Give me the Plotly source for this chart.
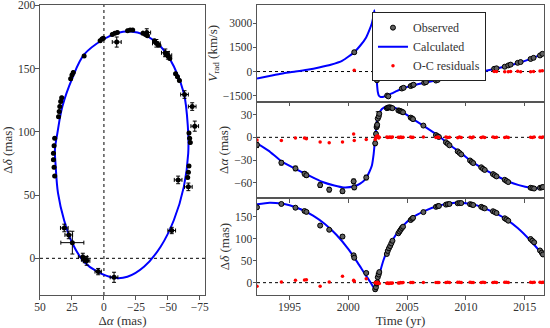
import plotly.graph_objects as go

# ---------------- Astrometric observations ----------------
obs_t = [1992.23, 1994.30, 1995.50, 1996.27, 1996.43, 1997.60, 1998.37, 1999.50, 2000.45, 2000.50,
         2001.52, 2002.28, 2002.35, 2002.40, 2002.42, 2002.45, 2002.50, 2002.58, 2002.63,
         2003.27, 2003.35, 2003.45, 2003.55, 2003.65, 2003.75,
         2004.25, 2004.35, 2004.45, 2004.55, 2004.65,
         2005.30, 2005.42, 2005.50, 2006.38,
         2007.45, 2007.60, 2007.70, 2008.30, 2008.45, 2008.60,
         2009.30, 2009.45, 2009.60, 2010.35, 2010.50, 2010.62,
         2011.30, 2011.45, 2011.60, 2012.30, 2012.45, 2012.60,
         2013.30, 2013.45, 2013.60, 2015.50, 2015.65, 2015.80,
         2016.30, 2016.45, 2016.55]
obs_ra = [-10.0, -33.5, -41.0, -48.0, -50.0, -63.0, -69.0, -71.0, -58.0, -66.0,
          -53.0, -7.9, 4.5, 13.5, 15.0, 16.5, 24.7, 27.5, 31.0,
          38.5, 39.0, 39.5, 39.5, 39.0, 38.5,
          35.5, 35.0, 34.5, 33.8, 33.0,
          26.0, 25.0, 24.0, 15.5,
          3.0, 1.5, 0.5, -6.5, -8.5, -10.5,
          -18.5, -20.5, -22.5, -30.5, -32.5, -34.0,
          -39.5, -41.5, -43.0, -48.5, -50.0, -51.5,
          -56.0, -57.5, -59.0, -66.5, -67.0, -67.5,
          -66.5, -66.0, -65.5]
obs_dec = [171.0, 178.5, 170.0, 162.5, 160.5, 129.5, 120.0, 104.5, 62.0, 56.5,
           22.0, -15.0, -10.5, -2.0, -1.0, 1.0, 12.4, 18.5, 24.0,
           65.0, 72.0, 78.0, 83.0, 89.0, 95.0,
           112.0, 116.0, 120.0, 124.0, 127.0,
           142.0, 145.0, 147.0, 160.0,
           172.0, 173.5, 174.0, 177.0, 178.0, 178.5,
           180.0, 180.5, 180.5, 178.0, 177.0, 176.0,
           172.0, 170.0, 168.5, 162.0, 160.0, 158.0,
           146.0, 143.5, 140.5, 99.0, 95.0, 91.5,
           73.0, 68.0, 64.0]
obs_ra_err = [3.5, 3.0, 3.0, 3.0, 3.0, 3.0, 3.0, 3.0, 3.0, 3.0,
              3.0, 3.0, 2.5, 2.5, 2.5, 3.5, 9.0, 3.0, 3.0] + [0.5] * 42
obs_dec_err = [4.0, 3.0, 3.0, 3.0, 3.0, 3.0, 3.0, 4.0, 3.0, 3.0,
               2.5, 4.0, 2.5, 3.5, 2.5, 3.0, 9.0, 3.0, 3.0] + [0.5] * 42
res_ra = [-3.4, -4.3, -0.9, -1.0, -2.0, -6.0, -7.3, -6.0, 4.4, -4.3,
          -3.0, -3.0, 0.0, 1.0, 0.5, 1.0, 2.0, -1.0, 0.0,
          0.5, -0.3, 0.2, 0.4, -0.2, 0.3,
          0.2, -0.3, 0.3, -0.2, 0.2,
          0.3, -0.2, 0.1, 0.3,
          -0.3, 0.3, -0.1, 0.4, -0.3, 0.2,
          -0.4, 0.3, -0.2, 0.2, -0.4, 0.3,
          -0.3, 0.4, -0.2, 0.3, -0.3, 0.2,
          -0.2, 0.4, -0.3, 0.2, -0.3, 0.3,
          0.2, -0.2, 0.3]
res_dec = [-8.2, 1.6, 5.5, 6.0, 6.5, -8.2, 1.6, 14.5, 5.5, 3.0,
           9.1, 0.0, 0.5, -1.0, -2.0, -1.0, 1.0, -2.0, -2.0,
           -1.5, -1.0, -2.0, -1.0, -1.5, -0.5,
           -0.8, -0.5, 0.3, -0.4, 0.2,
           0.5, 0.2, 0.6, 0.3,
           0.4, 0.5, 0.2, 0.6, 0.8, 0.4,
           0.7, 0.9, 0.5, 0.8, 0.6, 0.4,
           0.6, 0.8, 0.5, 0.6, 0.9, 0.5,
           0.7, 0.8, 0.6, 0.8, 0.6, 0.9,
           0.7, 0.6, 0.9]

# ---------------- Radial velocity observations ----------------
rv_t = [2000.50, 2002.43, 2003.30, 2003.40, 2004.55, 2004.70, 2005.30, 2005.45, 2005.55,
        2006.45, 2006.60, 2007.45, 2007.60, 2008.40, 2009.40, 2010.45, 2011.45, 2012.40,
        2012.60, 2013.30, 2013.60, 2013.80, 2014.40, 2014.65, 2015.50, 2015.75, 2016.30, 2016.50]
rv_v = [1200, -540, -1490, -1540, -1054, -1010, -900, -850, -820,
        -700, -660, -560, -520, -400, -260, -110, 20, 170,
        200, 300, 380, 430, 540, 590, 780, 850, 1000, 1100]
rv_err = [100, 80, 60, 60] + [40] * 24
rv_res = [80, 0, -167, -100, -30, 20, -40, 10, 30,
          -20, 10, -30, 20, -10, -20, -5, 0, 10,
          5, -20, -10, 10, 20, -20, -20, 0, 30, 50]

# ---------------- Calculated (model) curves ----------------
calc_rv_t = [1992.23, 1993.5, 1994.5, 1995.5, 1996.5, 1997.5, 1998.5, 1999.5, 2000.5, 2001.0,
             2001.5, 2001.8, 2002.0, 2002.15, 2002.22, 2002.28, 2002.34, 2002.4, 2002.45, 2002.5,
             2002.6, 2002.75, 2003.0, 2003.5, 2004.0, 2004.5, 2005.5, 2006.5, 2007.5, 2008.5,
             2009.5, 2010.5, 2011.5, 2012.5, 2013.5, 2014.5, 2015.5, 2016.64]
calc_rv = [-434, -250, -100, 0, 110, 250, 420, 680, 1200, 1600,
           2100, 2600, 3000, 3500, 3800, 2600, 800, -300, -900, -1250,
           -1500, -1580, -1560, -1420, -1250, -1080, -860, -690, -540, -390,
           -250, -115, 20, 170, 340, 540, 790, 1130]

calc_ra_t = [1992.23, 1993.2, 1994.35, 1995.5, 1996.6, 1997.75, 1998.8, 1999.6, 2000.5, 2001.0,
             2001.45, 2001.8, 2002.0, 2002.15, 2002.25, 2002.35, 2002.45, 2002.6, 2002.85, 2003.3,
             2003.7, 2004.3, 2005.4, 2006.4, 2007.65, 2008.65, 2009.65, 2010.5, 2011.5, 2012.5,
             2013.5, 2014.5, 2015.5, 2016.1, 2016.64]
calc_ra = [-7.9, -17.5, -32.0, -41.5, -50.0, -58.5, -63.5, -66.0, -64.5, -61.0,
           -55.0, -45.0, -37.0, -22.0, -6.0, 10.0, 22.0, 31.0, 37.5, 40.5,
           40.0, 36.5, 25.0, 15.0, 2.0, -10.5, -21.5, -32.0, -41.5, -50.0,
           -57.5, -63.0, -66.5, -67.0, -66.0]

calc_dec_t = [1992.23, 1993.3, 1994.3, 1995.0, 1996.0, 1997.0, 1998.0, 1999.0, 2000.0, 2000.8,
              2001.4, 2001.9, 2002.2, 2002.3, 2002.45, 2002.7, 2003.0, 2003.5, 2004.0, 2004.5,
              2005.4, 2006.5, 2007.6, 2008.7, 2009.6, 2010.7, 2011.9, 2013.3, 2014.4, 2015.5, 2016.64]
calc_dec = [178, 181.5, 179.5, 175.5, 166, 152, 133, 108, 76, 45,
            20, 0, -13, -17, 0, 25, 52, 84, 107, 125,
            147, 163, 174, 180, 181.5, 177, 165, 146, 124, 95, 60]

orbit_ra = [-20.9, -10.5, 0.0, 15.6, 24.7, 32.5, 36.4, 38.3, 37.7, 35.9, 31.2, 24.7, 15.6, 5.2,
            -7.8, -18.3, -31.3, -44.3, -54.7, -62.5, -65.9, -65.6, -62.5, -54.7, -44.3, -31.3, -20.9]
orbit_dec = [179.4, 178.2, 173.4, 161.0, 142.5, 120.0, 99.0, 86.0, 72.5, 51.5, 30.3, 11.9, -2.7, -10.6,
             -15.4, -14.6, -6.7, 9.2, 30.3, 56.7, 83.1, 104.2, 130.6, 151.7, 167.5, 176.8, 179.4]

# tick labels
orbit_x_ticks = [50, 25, 0, -25, -50, -75]
orbit_y_ticks = [0, 50, 100, 150, 200]
rv_ticks = [-1500, 0, 1500, 3000]
ra_ticks = [-60, -30, 0, 30]
dec_ticks = [0, 50, 100, 150]
time_ticks = [1995, 2000, 2005, 2010, 2015]

FONT = "Liberation Serif"
BLUE = "#0000ff"
RED = "#ff0000"

fig = go.Figure()

# ---------------- Left panel: orbit on sky ----------------
fig.add_trace(go.Scatter(x=orbit_ra, y=orbit_dec, mode="lines", line=dict(color=BLUE, width=2, shape="spline"),
                         xaxis="x", yaxis="y", showlegend=False))
fig.add_trace(go.Scatter(x=obs_ra, y=obs_dec, mode="markers",
                         marker=dict(color="black", size=5),
                         error_x=dict(type="data", array=obs_ra_err, color="black", thickness=1, width=2),
                         error_y=dict(type="data", array=obs_dec_err, color="black", thickness=1, width=2),
                         xaxis="x", yaxis="y", showlegend=False))

obs_marker = dict(color="#606060", size=5, line=dict(color="black", width=1))
err_style = dict(color="black", thickness=1, width=2)

# ---------------- Top right: radial velocity ----------------
fig.add_trace(go.Scatter(x=calc_rv_t, y=calc_rv, mode="lines", name="Calculated",
                         line=dict(color=BLUE, width=2, shape="spline", smoothing=0.5),
                         xaxis="x2", yaxis="y2", legendrank=2))
fig.add_trace(go.Scatter(x=rv_t, y=rv_v, mode="markers", name="Observed", marker=obs_marker,
                         error_y=dict(type="data", array=rv_err, **err_style),
                         xaxis="x2", yaxis="y2", legendrank=1))
fig.add_trace(go.Scatter(x=rv_t, y=rv_res, mode="markers", name="O-C residuals",
                         marker=dict(color=RED, size=3.5), xaxis="x2", yaxis="y2", legendrank=3))

# ---------------- Middle right: RA offset ----------------
fig.add_trace(go.Scatter(x=calc_ra_t, y=calc_ra, mode="lines", line=dict(color=BLUE, width=2, shape="spline", smoothing=0.6),
                         xaxis="x3", yaxis="y3", showlegend=False))
fig.add_trace(go.Scatter(x=obs_t, y=obs_ra, mode="markers", marker=obs_marker,
                         error_y=dict(type="data", array=obs_ra_err, **err_style),
                         xaxis="x3", yaxis="y3", showlegend=False))
fig.add_trace(go.Scatter(x=obs_t, y=res_ra, mode="markers", marker=dict(color=RED, size=3.5),
                         xaxis="x3", yaxis="y3", showlegend=False))

# ---------------- Bottom right: Dec offset ----------------
fig.add_trace(go.Scatter(x=calc_dec_t, y=calc_dec, mode="lines", line=dict(color=BLUE, width=2, shape="spline", smoothing=0.6),
                         xaxis="x4", yaxis="y4", showlegend=False))
fig.add_trace(go.Scatter(x=obs_t, y=obs_dec, mode="markers", marker=obs_marker,
                         error_y=dict(type="data", array=obs_dec_err, **err_style),
                         xaxis="x4", yaxis="y4", showlegend=False))
fig.add_trace(go.Scatter(x=obs_t, y=res_dec, mode="markers", marker=dict(color=RED, size=3.5),
                         xaxis="x4", yaxis="y4", showlegend=False))

# dotted reference lines
dot = dict(color="black", width=1, dash="dot")
fig.add_shape(type="line", xref="x", yref="y domain", x0=0, x1=0, y0=0, y1=1, line=dot, layer="below")
fig.add_shape(type="line", xref="x domain", yref="y", x0=0, x1=1, y0=0, y1=0, line=dot, layer="below")
for ax in ["2", "3", "4"]:
    fig.add_shape(type="line", xref="x" + ax + " domain", yref="y" + ax, x0=0, x1=1, y0=0, y1=0,
                  line=dot, layer="below")

tickfont = dict(family=FONT, size=11.5, color="#333")
titlefont = dict(family=FONT, size=13, color="#333")
axis_common = dict(showgrid=False, zeroline=False, showline=True, mirror=True, linecolor="#555",
                   linewidth=1, ticks="outside", ticklen=3.5, tickcolor="#555", tickfont=tickfont,
                   automargin=False, ticklabeloverflow="allow", ticklabelstandoff=-2)

TL = [1992.23, 2016.64]
fig.update_layout(
    width=550, height=328,
    margin=dict(l=0, r=0, t=0, b=0),
    paper_bgcolor="white", plot_bgcolor="white",
    font=dict(family=FONT, size=12, color="#333"),
    xaxis=dict(domain=[0.0727, 0.3727], range=[50, -79], tickvals=orbit_x_ticks,
               ticktext=["50", "25", "0", "\u221225", "\u221250", "\u221275"],
               title=dict(text="\u0394<i>\u03b1</i> (mas)", font=titlefont, standoff=2), **axis_common),
    yaxis=dict(domain=[0.1006, 0.9848], range=[-29, 200.3], tickvals=orbit_y_ticks,
               title=dict(text="\u0394<i>\u03b4</i> (mas)", font=titlefont, standoff=4), **axis_common),
    xaxis2=dict(domain=[0.4673, 0.9891], range=TL, tickvals=time_ticks, showticklabels=False,
                anchor="y2", **axis_common),
    yaxis2=dict(domain=[0.690, 0.9848], range=[-1870, 4130], tickvals=rv_ticks,
                ticktext=["\u22121500", "0", "1500", "3000"], anchor="x2",
                title=dict(text="<i>V</i><sub>rad</sub> (km/s)", font=titlefont, standoff=2), **axis_common),
    xaxis3=dict(domain=[0.4673, 0.9891], range=TL, tickvals=time_ticks, showticklabels=False,
                anchor="y3", **axis_common),
    yaxis3=dict(domain=[0.3963, 0.690], range=[-80, 47], tickvals=ra_ticks,
                ticktext=["\u221260", "\u221230", "0", "30"], anchor="x3",
                title=dict(text="\u0394<i>\u03b1</i> (mas)", font=titlefont, standoff=2), **axis_common),
    xaxis4=dict(domain=[0.4673, 0.9891], range=TL, tickvals=time_ticks, anchor="y4",
                title=dict(text="Time (yr)", font=titlefont, standoff=2), **axis_common),
    yaxis4=dict(domain=[0.1006, 0.3963], range=[-28, 192], tickvals=dec_ticks, anchor="x4",
                title=dict(text="\u0394<i>\u03b4</i> (mas)", font=titlefont, standoff=2), **axis_common),
    legend=dict(x=0.8836, y=0.963, xanchor="right", yanchor="top", bgcolor="white",
                bordercolor="#222", borderwidth=1, font=dict(family=FONT, size=12, color="#333"),
                tracegroupgap=0, itemwidth=30),
)

fig.write_html("out.html", config={"displayModeBar": False},
               post_script="document.body.style.margin='0';document.body.style.overflow='hidden';")
